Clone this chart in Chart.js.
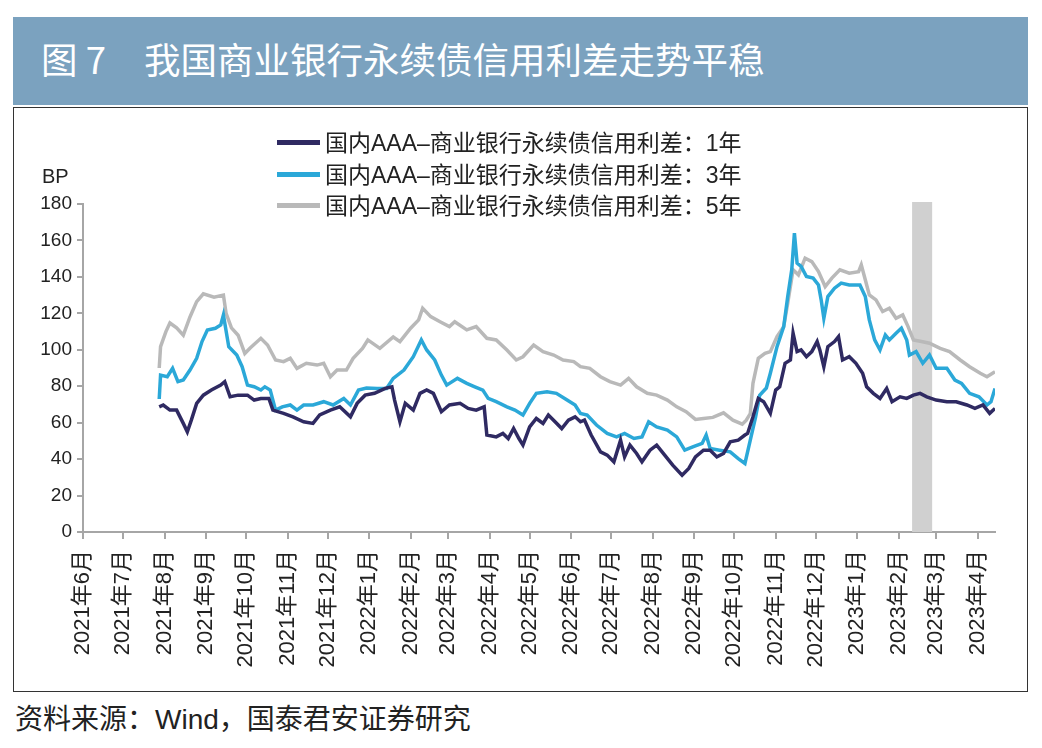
<!DOCTYPE html>
<html>
<head>
<meta charset="utf-8">
<script src="https://cdn.jsdelivr.net/npm/chart.js@4.4.1/dist/chart.umd.min.js"></script>
<style>
  html, body { margin: 0; padding: 0; background: #fff; }
  body { width: 1042px; height: 748px; position: relative; overflow: hidden;
         font-family: "Liberation Sans", "Noto Sans CJK SC", sans-serif; color: #222; }
  #title { position: absolute; left: 13px; top: 17px; width: 1015px; height: 88px;
           background: #7ba2bf; color: #fff; font-family: "Noto Sans CJK SC", sans-serif;
           font-size: 36.5px; font-weight: 400; line-height: 88px; white-space: pre; }
  #title span { position: absolute; top: -2px; }
  #box { position: absolute; left: 13px; top: 107px; width: 1013px; height: 583px;
         border: 1px solid #333; }
  #chart { position: absolute; left: 0; top: 0; }
  #bp { position: absolute; left: 28px; top: 57px; font-size: 20px; }
  .leg { position: absolute; left: 263px; height: 30px; font-size: 23px; line-height: 30px;
         white-space: nowrap; }
  .leg i { display: inline-block; width: 43px; height: 5px; vertical-align: middle;
           margin-right: 5px; position: relative; top: -2px; }
  #src { position: absolute; left: 15px; top: 697px; font-size: 28px;
         font-family: "Liberation Sans", "Noto Sans CJK SC", sans-serif; color: #222; }
</style>
</head>
<body>
<div id="title"><span style="left:28px">图 7</span><span style="left:131px">我国商业银行永续债信用利差走势平稳</span></div>
<div id="box">
  <canvas id="chart" width="1013" height="583"></canvas>
  <div id="bp">BP</div>
  <div id="legend"></div>
</div>
<div id="src">资料来源：Wind，国泰君安证券研究</div>
<script>
// month ticks on the x axis
const monthLabels = ['2021年6月','2021年7月','2021年8月','2021年9月','2021年10月','2021年11月','2021年12月',
  '2022年1月','2022年2月','2022年3月','2022年4月','2022年5月','2022年6月','2022年7月','2022年8月',
  '2022年9月','2022年10月','2022年11月','2022年12月','2023年1月','2023年2月','2023年3月','2023年4月'];

const seriesNames = ['国内AAA–商业银行永续债信用利差：1年', '国内AAA–商业银行永续债信用利差：3年', '国内AAA–商业银行永续债信用利差：5年'];
const seriesColors = ['#2f2a62', '#2ba8d8', '#b9b9b9'];

// x = days since 2021-06-01
const days1 = [57,60,65,70,75,78,81,85,90,96,103,106,110,116,123,128,133,139,142,150,157,165,172,177,185,192,200,205,211,
  218,226,231,233,237,241,247,252,257,262,268,274,282,288,294,300,302,309,314,318,322,326,329,334,339,344,348,353,358,363,
  368,372,375,380,387,392,397,402,405,409,414,418,424,429,435,441,448,453,458,464,469,474,479,484,490,495,497,501,505,509,
  514,518,521,525,529,531,534,537,541,545,549,551,554,557,562,565,568,573,578,583,586,591,596,601,605,611,616,621,626,631,
  638,646,653,661,667,673,678,682];
const spread1 = [68.7,69.7,66.9,66.9,59.6,55,61.4,70.6,75.1,77.9,80.6,82.5,74.2,75.1,75.1,72.4,73.3,73.3,66.9,65.1,63.2,60.5,59.6,64.2,66.9,68.7,63.2,70.6,75.1,
  76.1,78.8,79.7,72.4,60.5,70.6,66.9,76.1,77.9,76.1,66,69.7,70.6,67.8,66.9,68.7,53.2,52.2,54.1,51.3,56.8,51.3,47.7,57.7,62.3,59.6,64.2,60.5,56.8,61.4,
  63.2,60.5,61.4,53.2,44,42.2,38.5,50.4,41.2,47.7,43.1,38.5,44.9,47.7,42.2,36.7,31.2,34.9,41.2,44.9,44.9,41.2,43.1,49.5,50.4,53.2,54.1,63.2,73.3,71.5,
  65.1,77.9,79.7,92.6,94.4,109.1,99,99.9,96.2,99,104.5,99.9,90.7,101.7,104.5,107.2,94.4,96.2,92.6,87.1,79.7,76.1,73.3,78.8,71.5,74.2,73.3,75.1,76.1,74.2,
  72.4,71.5,71.5,69.7,67.8,69.7,65.1,67.8];

const days3 = [57,58,63,67,71,75,80,85,89,93,99,103,105,109,115,119,123,128,133,136,140,144,149,155,160,165,172,180,187,195,
  200,206,212,220,227,232,240,247,253,257,263,268,272,280,287,293,299,303,309,317,323,329,334,339,347,354,362,368,372,377,
  384,392,399,405,412,418,423,429,437,444,450,456,463,466,469,476,484,490,495,499,503,506,511,514,519,524,527,530,532,534,
  537,541,546,550,552,554,557,562,567,573,581,585,588,592,596,600,603,608,612,616,618,623,628,633,638,646,652,657,663,670,
  676,679,682];
const spread3 = [73,86.1,85.2,89.8,82.5,83.4,88.9,95.3,104.5,110.9,111.8,113.6,119.1,101.7,97.1,90.7,80.6,79.7,77.9,79.7,77.9,66.9,68.7,69.7,66.9,69.7,69.7,71.5,69.7,73.3,
  69.7,77.9,79,78.8,78.8,84.3,88.9,96.2,105.4,99.9,94.4,86.1,80.6,84.3,81.6,79.7,77.9,73.3,71.5,68.7,66.9,64.2,70.6,76.1,77,76.1,72.4,69.7,65.1,64.2,
  58.7,54.1,52.2,54.1,51.3,52.2,60.5,57.7,55.9,52.2,44.9,46.7,48.6,53.2,45.8,44.9,44,40.3,37.6,50.4,63.2,75,79,87.1,101.7,112.7,129.2,143.9,164,147.5,
  145.7,140.2,139.3,135.6,127.4,117.3,129.2,133.8,136.6,135.6,135.6,129.2,116.4,105.4,99.9,108.1,105.4,109.1,111.8,105.4,97.1,99,92.6,97.1,89.8,89.8,83.4,81.6,76.1,74.2,
  69.7,71.5,78.8];

const days5 = [57,58,62,65,70,75,80,85,90,98,105,107,111,116,121,125,133,138,144,150,155,160,167,175,180,185,190,197,202,209,
  213,222,232,237,245,251,254,260,267,274,278,287,294,302,309,317,324,329,337,344,352,359,367,372,379,387,394,402,408,414,
  422,429,437,444,451,458,464,471,479,486,493,496,499,501,505,510,514,519,524,527,531,535,540,545,550,555,560,566,573,580,
  582,585,588,593,598,603,608,613,617,621,627,633,641,648,656,663,671,676,682];
const spread5 = [90,101.7,110,114.7,112,108,118,126.4,130.7,128.9,130,120,112,108,98,101,106.3,102.6,94.4,93.5,95.3,89.8,92.6,91.6,92.6,85.2,88.9,88.9,95.3,100.8,
  105.4,100.8,107,104.5,111.8,116.4,122.8,118.2,115.4,112.7,115.4,110.9,112.7,106.3,105.4,99.9,94.4,96.2,102.6,99,97.1,94.4,93.5,90.7,89.8,85.2,82.5,80.6,84.3,79.7,
  76.1,75.1,72.4,68.7,66,61.8,62.3,62.9,65.4,61.4,59.2,61.4,65,81.6,95.3,98,99,107.2,112.7,125.6,143.9,141.1,150.3,148.4,142.9,134.7,139.3,143.9,142,142.9,
  146.6,138.4,130.1,127.4,121,122.8,117.3,119.1,112.7,105.4,104.5,103.6,100.8,99,94.4,90.7,87.1,85.2,88];

// shaded period, days since 2021-06-01
const band = [620, 635];

const yTicks = [0, 20, 40, 60, 80, 100, 120, 140, 160, 180];

const base = Date.UTC(2021, 5, 1);
function monthDay(label) {
  const m = label.match(/(\d+)年(\d+)月/);
  return Math.round((Date.UTC(+m[1], +m[2] - 1, 1) - base) / 86400000);
}
const monthDays = monthLabels.map(monthDay);

function toPoints(days, vals) {
  return days.map((d, i) => ({ x: d, y: vals[i] }));
}

// legend
const legend = document.getElementById('legend');
seriesNames.forEach((name, i) => {
  const row = document.createElement('div');
  row.className = 'leg';
  row.style.top = (20 + i * 31.5) + 'px';
  row.innerHTML = '<i style="background:' + seriesColors[i] + '"></i>' + name;
  legend.appendChild(row);
});

const bandPlugin = {
  id: 'band',
  beforeDatasetsDraw(chart) {
    const { ctx, chartArea, scales } = chart;
    const x0 = scales.x.getPixelForValue(band[0]);
    const x1 = scales.x.getPixelForValue(band[1]);
    ctx.save();
    ctx.fillStyle = '#d0d0d0';
    ctx.fillRect(x0, chartArea.top - 2, x1 - x0, chartArea.bottom - chartArea.top + 2);
    ctx.restore();
  }
};

const fontFamily = '"Liberation Sans", "Noto Sans CJK SC", sans-serif';
const axisColor = '#a6a6a6';

new Chart(document.getElementById('chart'), {
  type: 'line',
  data: {
    datasets: [
      { label: seriesNames[0], data: toPoints(days1, spread1), borderColor: seriesColors[0] },
      { label: seriesNames[1], data: toPoints(days3, spread3), borderColor: seriesColors[1] },
      { label: seriesNames[2], data: toPoints(days5, spread5), borderColor: seriesColors[2] }
    ]
  },
  options: {
    responsive: false,
    animation: false,
    elements: {
      line: { borderWidth: 3.5, tension: 0, fill: false },
      point: { radius: 0 }
    },
    layout: { padding: { left: 0, right: 32, top: 96, bottom: 0 } },
    plugins: { legend: { display: false }, tooltip: { enabled: false } },
    scales: {
      x: {
        type: 'linear',
        min: 0,
        max: 682,
        afterBuildTicks: scale => { scale.ticks = monthDays.map(v => ({ value: v })); },
        afterFit: scale => { scale.height = 159; },
        ticks: {
          autoSkip: false,
          minRotation: 90,
          maxRotation: 90,
          padding: 11,
          color: '#222',
          font: { family: fontFamily, size: 22 },
          callback: value => monthLabels[monthDays.indexOf(value)]
        },
        grid: { drawOnChartArea: false, drawTicks: true, tickLength: 7, color: axisColor, lineWidth: 2 },
        border: { color: axisColor, width: 2 }
      },
      y: {
        min: 0,
        max: 180,
        afterBuildTicks: scale => { scale.ticks = yTicks.map(v => ({ value: v })); },
        afterFit: scale => { scale.width = 69; },
        ticks: { padding: 5, color: '#222', font: { family: fontFamily, size: 19 } },
        grid: { drawOnChartArea: false, drawTicks: true, tickLength: 6, color: axisColor, lineWidth: 2 },
        border: { color: axisColor, width: 2 }
      }
    }
  },
  plugins: [bandPlugin]
});
</script>
</body>
</html>
